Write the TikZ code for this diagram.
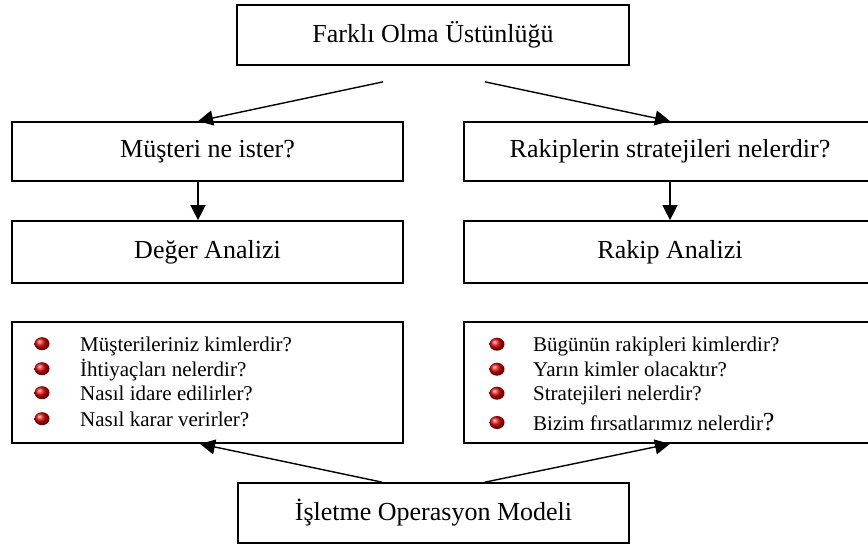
\documentclass[tikz,border=0pt]{standalone}
\usepackage{fontspec}
\setmainfont{Liberation Serif}
\usepackage{tikz}
\usetikzlibrary{arrows.meta}
\tikzset{
  KutuNode/.style = {draw = black, line width = 1.7pt, rectangle, inner sep=0pt, align=center, font = \fontsize{26}{30}\selectfont},
  ListeNode/.style = {KutuNode, minimum width = 391pt, minimum height = 121pt},
  MaddeText/.style = {anchor = base west, inner sep=0pt, font = \fontsize{21}{25}\selectfont},
  Ok/.style = {line width = 1.4pt, -{Triangle[length=15pt, width=15pt]}}
}
\begin{document}
\begin{tikzpicture}[x=1pt, y=-1pt]
    \useasboundingbox (0,0) rectangle (868,546);
    \node [KutuNode, minimum width=392pt, minimum height=60pt] (Farkli) at (433,35) {Farklı Olma Üstünlüğü};
    \node [KutuNode, minimum width=391pt, minimum height=59pt] (Musteri) at (207.5,151.5) {Müşteri ne ister?};
    \node [KutuNode, minimum width=412pt, minimum height=59pt] (Rakipler) at (670,151.5) {Rakiplerin stratejileri nelerdir?};
    \node [KutuNode, minimum width=391pt, minimum height=62pt] (Deger) at (207.5,252) {Değer Analizi};
    \node [KutuNode, minimum width=412pt, minimum height=62pt] (RakipAnaliz) at (670,252) {Rakip Analizi};
    \node [ListeNode] (MusteriListe) at (207.5,382.5) {};
    \node [ListeNode, minimum width=412pt] (RakipListe) at (670,382.5) {};
    \node [KutuNode, minimum width=391pt, minimum height=60pt] (Isletme) at (433.5,513) {İşletme Operasyon Modeli};
    % maddeler
    \foreach \y/\txt [count=\i] in {351.7/Müşterileriniz kimlerdir?, 376.7/İhtiyaçları nelerdir?, 400.7/Nasıl idare edilirler?, 426.7/Nasıl karar verirler?}{
        \shade [ball color=red!85!black] (42,\y-8) ellipse (7.5 and 6.5);
        \node [MaddeText] (mm\i) at (80,\y) {\txt};
    }
    \foreach \y/\txt [count=\i] in {351.7/Bügünün rakipleri kimlerdir?, 376.7/Yarın kimler olacaktır?, 400.7/Stratejileri nelerdir?, 430/Bizim fırsatlarımız nelerdir{\fontsize{26}{30}\selectfont ?}}{
        \shade [ball color=red!85!black] (497,\y-7.5) ellipse (7.5 and 6.5);
        \node [MaddeText] (rm\i) at (533,\y) {\txt};
    }
    % oklar
    \coordinate (f1) at ([shift={(-50,16)}]Farkli.south);
    \coordinate (f2) at ([shift={(52,16)}]Farkli.south);
    \coordinate (i1) at ([xshift=-51.5pt]Isletme.north);
    \coordinate (i2) at ([xshift=51.5pt]Isletme.north);
    \draw [Ok] (f1) -- ([xshift=-9.5pt]Musteri.north);
    \draw [Ok] (f2) -- (Rakipler.north);
    \draw [Ok] ([xshift=-9.5pt]Musteri.south) -- ([xshift=-9.5pt]Deger.north);
    \draw [Ok] (Rakipler.south) -- (RakipAnaliz.north);
    \draw [Ok] (i1) -- ([xshift=-7.5pt]MusteriListe.south);
    \draw [Ok] (i2) -- (RakipListe.south);
\end{tikzpicture}
\end{document}
